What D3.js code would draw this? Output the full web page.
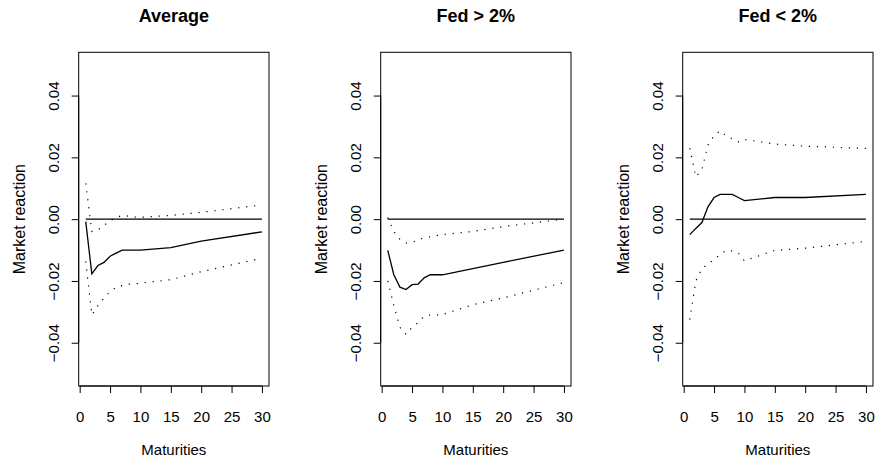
<!DOCTYPE html>
<html>
<head>
<meta charset="utf-8">
<script src="https://cdn.jsdelivr.net/npm/d3@7"></script>
<style>
  body { margin: 0; background: #fff; }
  text { font-family: "Liberation Sans", Arial, sans-serif; fill: #000; }
</style>
</head>
<body>
<div id="chart"></div>
<script>
// maturities (years) and estimates
let maturities = [1, 2, 3, 4, 5, 6, 7, 8, 9, 10, 15, 20, 30];

let titles = ["Average", "Fed > 2%", "Fed < 2%"];

let avgEst   = [-0.0008, -0.0177, -0.015, -0.014, -0.012, -0.011, -0.010, -0.010, -0.010, -0.010, -0.0092, -0.0071, -0.0041];
let avgUpper = [0.0116, -0.004, -0.0035, -0.002, -0.0005, 0.0005, 0.0012, 0.001, 0.0007, 0.0006, 0.0012, 0.0022, 0.0046];
let avgLower = [-0.0137, -0.031, -0.028, -0.0255, -0.0235, -0.022, -0.0215, -0.021, -0.021, -0.0207, -0.0196, -0.017, -0.0126];

let hiEst   = [-0.0101, -0.018, -0.022, -0.0228, -0.0212, -0.021, -0.019, -0.018, -0.018, -0.018, -0.016, -0.014, -0.010];
let hiUpper = [0.0005, -0.004, -0.0065, -0.0077, -0.0075, -0.0068, -0.006, -0.0057, -0.0053, -0.005, -0.004, -0.0024, 0.0];
let hiLower = [-0.020, -0.028, -0.035, -0.0373, -0.035, -0.0335, -0.0314, -0.031, -0.031, -0.0309, -0.0277, -0.0255, -0.0205];

let loEst   = [-0.005, -0.003, -0.0011, 0.004, 0.007, 0.008, 0.008, 0.008, 0.007, 0.006, 0.007, 0.007, 0.008];
let loUpper = [0.023, 0.0137, 0.016, 0.024, 0.027, 0.0286, 0.027, 0.026, 0.025, 0.0258, 0.0243, 0.0236, 0.0229];
let loLower = [-0.0325, -0.020, -0.016, -0.0145, -0.0131, -0.0115, -0.0101, -0.0103, -0.011, -0.0135, -0.0101, -0.0094, -0.0072];

let xTicks = [0, 5, 10, 15, 20, 25, 30];
let yTicks = [-0.04, -0.02, 0.00, 0.02, 0.04];

let panels = [
    { title: titles[0], est: avgEst, upper: avgUpper, lower: avgLower },
    { title: titles[1], est: hiEst, upper: hiUpper, lower: hiLower },
    { title: titles[2], est: loEst, upper: loUpper, lower: loLower }
];

let width = 877, height = 462;
let plotLefts = [78.7, 380.7, 682.7];
let plotW = 190.3;
let plotTop = 52.3, plotBottom = 386;

let svg = d3.select("#chart")
    .append("svg")
    .attr("width", width)
    .attr("height", height);

// R style: 4% padding on the data range
let x = d3.scaleLinear().domain([-0.16, 31.16]).range([0, plotW]);
let y = d3.scaleLinear().domain([-0.054, 0.054]).range([plotBottom, plotTop]);

let line = d3.line()
    .x(d => x(d[0]))
    .y(d => y(d[1]));

panels.forEach(function (p, i) {
    let g = svg.append("g")
        .attr("transform", `translate(${plotLefts[i]}, 0)`);

    // zero line
    g.append("path")
        .attr("d", line([[maturities[0], 0], [maturities[maturities.length - 1], 0]]))
        .attr("fill", "none")
        .attr("stroke", "#000")
        .attr("stroke-width", 1.2);

    // confidence bands
    [p.upper, p.lower].forEach(function (band) {
        g.append("path")
            .attr("d", line(maturities.map((m, j) => [m, band[j]])))
            .attr("fill", "none")
            .attr("stroke", "#000")
            .attr("stroke-width", 1.2)
            .attr("stroke-dasharray", "1.2,6.8");
    });

    // estimate
    g.append("path")
        .attr("d", line(maturities.map((m, j) => [m, p.est[j]])))
        .attr("fill", "none")
        .attr("stroke", "#000")
        .attr("stroke-width", 1.3);

    // box
    g.append("rect")
        .attr("x", 0)
        .attr("y", plotTop)
        .attr("width", plotW)
        .attr("height", plotBottom - plotTop)
        .attr("fill", "none")
        .attr("stroke", "#000")
        .attr("stroke-width", 1);

    // x axis
    let xAxis = g.append("g")
        .attr("transform", `translate(0, ${plotBottom})`)
        .call(d3.axisBottom(x).tickValues(xTicks).tickSize(7).tickSizeOuter(0).tickPadding(18));
    xAxis.select(".domain")
        .attr("d", `M${x(0)},0H${x(30)}`);
    xAxis.selectAll("text").style("font-size", "15px");

    // y axis
    let yAxis = g.append("g")
        .call(d3.axisLeft(y).tickValues(yTicks).tickFormat(d3.format(".2f")).tickSize(7).tickSizeOuter(0));
    yAxis.select(".domain")
        .attr("d", `M0,${y(-0.04)}V${y(0.04)}`);
    yAxis.selectAll("text")
        .style("font-size", "15px")
        .attr("text-anchor", "middle")
        .attr("dy", null)
        .attr("x", null)
        .attr("transform", "translate(-19.4, 0) rotate(-90)")
        .text(d => d3.format(".2f")(d).replace("-", "\u2212"));
    g.selectAll(".tick line").attr("stroke-width", 1);

    // titles and labels
    g.append("text")
        .attr("x", plotW / 2)
        .attr("y", 22)
        .attr("text-anchor", "middle")
        .style("font-size", "18px")
        .style("font-weight", "bold")
        .text(p.title);

    g.append("text")
        .attr("x", plotW / 2)
        .attr("y", 455)
        .attr("text-anchor", "middle")
        .style("font-size", "15px")
        .text("Maturities");

    g.append("text")
        .attr("transform", `translate(-54, ${(plotTop + plotBottom) / 2}) rotate(-90)`)
        .attr("text-anchor", "middle")
        .style("font-size", "16px")
        .text("Market reaction");
});
</script>
</body>
</html>
